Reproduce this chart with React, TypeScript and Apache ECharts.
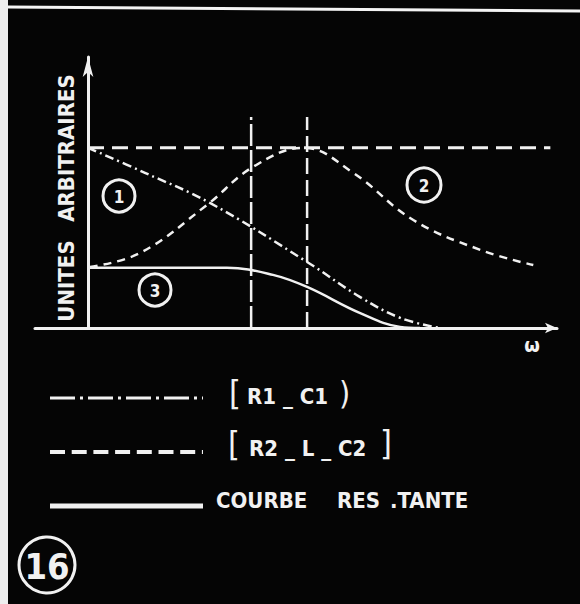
import { useEffect, useRef } from "react";
import * as echarts from "echarts";

// Abscissa: pulsation ω (arbitrary units), ordinate: arbitrary units.
// Curve 1: branch R1 – C1 (dash-dot)
const curve1: [number, number][] = [
  [0, 64.1], [12, 55.2], [25.7, 44.5], [46.2, 23.5], [57.4, 11.0], [66, 3.5], [74.3, 0],
];
// Curve 2: branch R2 – L – C2 (dashed, resonant)
const curve2: [number, number][] = [
  [0.4, 21.7], [11, 26.7], [25.1, 43.8], [34.8, 57.3], [45.5, 64.1],
  [55.9, 55.2], [68.6, 38.4], [82.7, 27.8], [93.9, 22.4],
];
// Curve 3: resulting curve (solid)
const curve3: [number, number][] = [
  [0, 21.4], [29.3, 21.4], [39, 18.9], [46.2, 14.6], [57.4, 5.3], [65.8, 0.4], [70, 0],
];
// Reference levels
const maxLevel = 64.1;
const maxLevelEnd = 97.5;
const cutoffs = [34.4, 46.2];
const cutoffTop = 75.1;

const yAxisTitle = ["ARBITRAIRES", "UNITES"];
const legendLabels = ["R1 _ C1", "R2 _ L _ C2", "COURBE", "RES", ".TANTE"];
const curveTags = ["1", "2", "3"];
const figureNumber = "16";
const xAxisSymbol = "ω";

const INK = "#f1f1f1";
const FONT = "'DejaVu Sans Condensed', 'Liberation Sans Narrow', 'DejaVu Sans', sans-serif";

export default function App() {
  const ref = useRef<HTMLDivElement>(null);

  useEffect(() => {
    if (!ref.current) return;
    const chart = echarts.init(ref.current, undefined, { renderer: "svg" });

    const lineSeries = (data: [number, number][], width: number, type: any, smooth: number | boolean) => ({
      type: "line",
      data,
      smooth,
      showSymbol: false,
      symbol: "none",
      silent: true,
      lineStyle: { color: INK, width, type, cap: "butt" },
    });

    const tag = (cx: number, cy: number, r: number, text: string, size: number) => ({
      type: "group",
      children: [
        { type: "circle", shape: { cx, cy, r }, style: { fill: "none", stroke: INK, lineWidth: 3 } },
        {
          type: "text",
          x: cx,
          y: cy + 1,
          style: {
            text, fill: INK, font: `bold ${size}px ${FONT}`,
            textAlign: "center", textVerticalAlign: "middle", align: "center", verticalAlign: "middle",
          },
        },
      ],
    });

    const label = (x: number, y: number, text: string, size: number, weight = "bold", rotation = 0, align = "left") => ({
      type: "text",
      x,
      y,
      rotation,
      style: {
        text, fill: INK, font: `${weight} ${size}px ${FONT}`,
        textAlign: align, textVerticalAlign: "middle", align, verticalAlign: "middle",
      },
    });

    chart.setOption({
      animation: false,
      backgroundColor: "#050505",
      grid: { left: 35, right: 23, top: 57, bottom: 276, containLabel: false },
      xAxis: {
        type: "value",
        min: -11.18,
        max: 98.9,
        splitLine: { show: false },
        axisTick: { show: false },
        axisLabel: { show: false },
        axisLine: {
          lineStyle: { color: INK, width: 3 },
          symbol: ["none", "arrow"],
          symbolSize: [8, 12],
        },
      },
      yAxis: {
        type: "value",
        min: 0,
        max: 96.4,
        splitLine: { show: false },
        axisTick: { show: false },
        axisLabel: { show: false },
        axisLine: {
          onZero: true,
          lineStyle: { color: INK, width: 3 },
          symbol: ["none", "arrow"],
          symbolSize: [8, 20],
        },
      },
      series: [
        lineSeries([[0, maxLevel], [maxLevelEnd, maxLevel]], 3, [16, 8], false),
        lineSeries([[cutoffs[0], 0], [cutoffs[0], cutoffTop]], 2.5, [22, 4], false),
        lineSeries([[cutoffs[1], 0], [cutoffs[1], cutoffTop]], 2.5, [16, 6], false),
        lineSeries(curve1, 2.5, [9, 4, 2, 4], 0.4),
        lineSeries(curve2, 2.5, [8, 6], 0.4),
        lineSeries(curve3, 2.5, "solid", 0.4),
      ],
      graphic: [
        // frame of the plate
        { type: "rect", shape: { x: 0, y: 0, width: 8, height: 604 }, style: { fill: "#eeeeee" } },
        { type: "line", shape: { x1: 8, y1: 7, x2: 580, y2: 11 }, style: { stroke: "#f4f4f4", lineWidth: 3 } },
        // axis titles
        label(66, 148, yAxisTitle[0], 22, "bold", Math.PI / 2, "center"),
        label(66, 281, yAxisTitle[1], 22, "bold", Math.PI / 2, "center"),
        label(532, 345, xAxisSymbol, 20, "bold", 0, "center"),
        // curve numbers
        tag(119, 196, 16, curveTags[0], 17),
        tag(424, 185, 17, curveTags[1], 17),
        tag(155, 290, 16, curveTags[2], 17),
        // legend
        { type: "line", shape: { x1: 50, y1: 398, x2: 203, y2: 398 }, style: { stroke: INK, lineWidth: 3, lineDash: [25, 5, 3, 5] } },
        { type: "line", shape: { x1: 50, y1: 452, x2: 203, y2: 452 }, style: { stroke: INK, lineWidth: 4, lineDash: [15, 6.7] } },
        { type: "line", shape: { x1: 50, y1: 506, x2: 203, y2: 506 }, style: { stroke: INK, lineWidth: 5 } },
        label(229, 393, "[", 34, "normal"),
        label(247, 396, legendLabels[0], 22),
        label(339, 393, ")", 32, "normal"),
        label(228, 444, "[", 34, "normal"),
        label(249, 448, legendLabels[1], 22),
        label(380, 443, "]", 34, "normal"),
        label(216, 500, legendLabels[2], 22),
        label(337, 500, legendLabels[3], 22),
        label(390, 500, legendLabels[4], 22),
        // figure number
        tag(47, 565, 28, figureNumber, 36),
      ],
    });

    return () => chart.dispose();
  }, []);

  return (
    <div
      ref={ref}
      style={{ position: "fixed", left: 0, top: 0, width: 580, height: 604, background: "#050505" }}
    />
  );
}
